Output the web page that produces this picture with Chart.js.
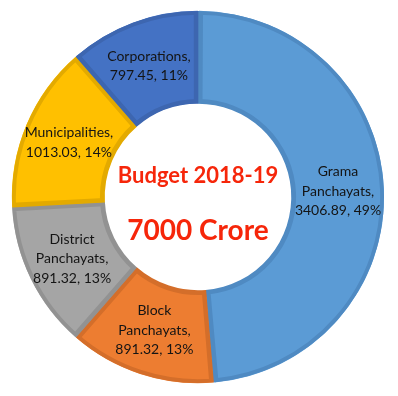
<!DOCTYPE html>
<html>
<head>
<meta charset="utf-8">
<script src="https://cdn.jsdelivr.net/npm/chart.js@4/dist/chart.umd.min.js"></script>
<style>
  html, body { margin: 0; padding: 0; background: #fff; }
  #wrap { width: 398px; height: 396px; position: relative; }
</style>
</head>
<body>
<div id="wrap"><canvas id="myChart"></canvas></div>
<script>
// category names, wrapped the way the labels show them
const categories = [
  ["Grama", "Panchayats"],
  ["Block", "Panchayats"],
  ["District", "Panchayats"],
  ["Municipalities"],
  ["Corporations"]
];
const values = [3406.89, 891.32, 891.32, 1013.03, 797.45];
const fillColors = ["#5b9bd5", "#ed7d31", "#a5a5a5", "#ffc000", "#4472c4"];
const edgeColors = ["#4f8ac2", "#d46e2a", "#929292", "#e3aa00", "#3d66b0"];
const centerTitle = "Budget 2018-19";
const centerTotal = "7000 Crore";

const total = values.reduce((a, b) => a + b, 0);

// data labels inside each slice
const sliceLabels = {
  id: "sliceLabels",
  afterDatasetsDraw(chart) {
    const ctx = chart.ctx;
    const meta = chart.getDatasetMeta(0);
    ctx.save();
    ctx.fillStyle = "#141414";
    ctx.font = "14px Lato";
    ctx.textAlign = "center";
    ctx.textBaseline = "middle";
    meta.data.forEach((arc, i) => {
      const p = arc.tooltipPosition();
      const pct = Math.round(values[i] / total * 100);
      const lines = categories[i].slice();
      lines[lines.length - 1] += ",";
      lines.push(values[i].toFixed(2) + ", " + pct + "%");
      const lh = 19.5;
      const y0 = p.y - (lines.length - 1) * lh / 2;
      lines.forEach((t, k) => ctx.fillText(t, p.x, y0 + k * lh));
    });
    ctx.restore();
  }
};

// red text in the hole
const centerText = {
  id: "centerText",
  afterDraw(chart) {
    const ctx = chart.ctx;
    const a = chart.chartArea;
    const cx = (a.left + a.right) / 2;
    const cy = (a.top + a.bottom) / 2;
    ctx.save();
    ctx.fillStyle = "#f6260a";
    ctx.textAlign = "center";
    ctx.textBaseline = "middle";
    ctx.font = "bold 22px Lato";
    ctx.fillText(centerTitle, cx, cy - 21);
    ctx.font = "bold 28px Lato";
    ctx.fillText(centerTotal, cx, cy + 34);
    ctx.restore();
  }
};

new Chart(document.getElementById("myChart").getContext("2d"), {
  type: "doughnut",
  data: {
    labels: categories.map(c => c.join(" ")),
    datasets: [{
      data: values,
      backgroundColor: fillColors,
      borderColor: edgeColors,
      borderWidth: 4,
      borderAlign: "inner",
      spacing: 1
    }]
  },
  options: {
    responsive: true,
    maintainAspectRatio: false,
    animation: false,
    radius: 186,
    cutout: 93,
    layout: { padding: { left: 12, right: 14, top: 11, bottom: 13 } },
    plugins: {
      legend: { display: false },
      tooltip: { enabled: false }
    }
  },
  plugins: [sliceLabels, centerText]
});
</script>
</body>
</html>
